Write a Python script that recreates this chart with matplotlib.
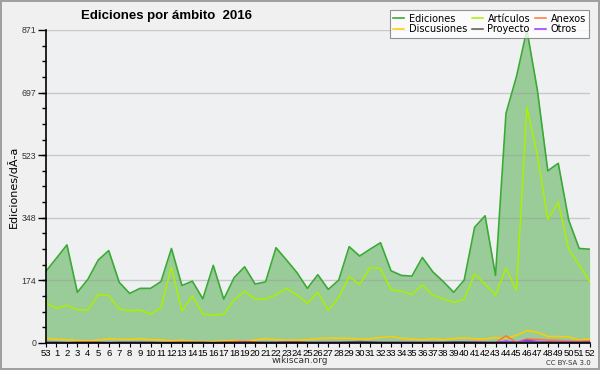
import numpy as np
import matplotlib
matplotlib.use("Agg")
import matplotlib.pyplot as plt
from matplotlib.ticker import FixedLocator

# semanas del año (53 puntos) y sus etiquetas
semanas = list(range(53))
etiquetas = ["53"] + [str(i) for i in range(1, 53)]

ediciones = [200, 236, 273, 141, 177, 231, 257, 169, 138, 152, 152, 171, 263, 160, 172, 123, 216, 122,
             182, 212, 164, 170, 265, 231, 196, 152, 190, 149, 175, 268, 242, 261, 279, 201, 188, 186,
             238, 198, 171, 141, 175, 322, 354, 188, 639, 741, 871, 704, 479, 500, 342, 263, 261]
articulos = [112, 96, 105, 92, 92, 135, 132, 95, 89, 92, 80, 99, 211, 89, 131, 80, 77, 80,
             120, 144, 122, 122, 134, 152, 134, 110, 141, 91, 127, 185, 163, 210, 207, 148, 144, 135,
             161, 133, 123, 113, 122, 192, 164, 133, 208, 147, 656, 523, 344, 392, 261, 217, 171]
discusiones = [13, 10, 9, 7, 6, 8, 12, 10, 10, 12, 9, 9, 6, 8, 5, 4, 4, 6,
               7, 6, 8, 12, 9, 8, 8, 9, 12, 14, 13, 13, 11, 12, 15, 18, 13, 11,
               9, 12, 9, 12, 14, 12, 11, 15, 13, 21, 34, 30, 18, 18, 17, 8, 11]
anexos = [1, 1, 1, 1, 1, 1, 1, 1, 1, 1, 1, 1, 2, 1, 1, 1, 1, 2,
          4, 5, 3, 1, 1, 1, 2, 1, 1, 1, 1, 1, 1, 1, 1, 1, 1, 1,
          1, 1, 1, 1, 2, 4, 2, 1, 20, 2, 11, 10, 8, 7, 5, 5, 6]
proyecto = [2, 2, 1, 2, 2, 2, 1, 2, 2, 2, 2, 1, 1, 2, 2, 2, 1, 2,
            2, 3, 2, 2, 2, 3, 3, 2, 2, 2, 2, 3, 4, 3, 2, 2, 2, 2,
            2, 2, 2, 3, 3, 2, 2, 2, 3, 2, 4, 3, 3, 2, 2, 2, 3]
otros = [1, 1, 1, 1, 1, 1, 1, 1, 1, 1, 1, 1, 1, 1, 1, 1, 1, 1,
         1, 2, 1, 1, 1, 2, 1, 1, 1, 1, 1, 1, 1, 1, 1, 1, 1, 1,
         1, 1, 1, 1, 1, 2, 1, 1, 5, 1, 8, 4, 2, 2, 2, 1, 2]

yticks = [0, 174, 348, 523, 697, 871]

plt.rcParams['font.family'] = ['DejaVu Sans']
fig = plt.figure(figsize=(6, 3.7), dpi=100, facecolor='#f0f0f0',
                 edgecolor='#a0a0a0', linewidth=1.5)
ax = fig.add_axes([0.0767, 0.073, 0.906, 0.846])
ax.set_facecolor('#eff0f2')

ax.fill_between(semanas, ediciones, 0, color='#99cc99', lw=0, zorder=1)
l1, = ax.plot(semanas, ediciones, color='#3aaa35', lw=1.2, label='Ediciones')
l2, = ax.plot(semanas, articulos, color='#aaf000', lw=1.1, label='Artículos')
l4, = ax.plot(semanas, discusiones, color='#ffcc00', lw=1.1, label='Discusiones')
l3, = ax.plot(semanas, anexos, color='#ff7733', lw=1.1, label='Anexos')
l5, = ax.plot(semanas, proyecto, color='#555555', lw=1.1, label='Proyecto')
l6, = ax.plot(semanas, otros, color='#9933ff', lw=1.1, label='Otros')

ax.set_xlim(0, 52)
ax.set_ylim(0, 871)
ax.yaxis.set_major_locator(FixedLocator(yticks))
ax.yaxis.set_minor_locator(FixedLocator(np.arange(0, 871, 174.2 / 4)))
ax.set_yticklabels([str(v) for v in yticks], fontsize=6.3, color='#333333',
                   family='Liberation Sans')
ax.tick_params(axis='y', which='major', length=6, width=1, pad=1)
ax.tick_params(axis='y', which='minor', length=3, width=1)
ax.grid(axis='y', color='#999999', alpha=0.45, lw=1)
ax.set_axisbelow('line')

ax.set_xticks(semanas)
ax.set_xticklabels(etiquetas, fontsize=6.8, family='Liberation Sans')
ax.tick_params(axis='x', length=3, pad=1)

for s in ['top', 'right']:
    ax.spines[s].set_visible(False)
ax.spines['left'].set_linewidth(1.2)
ax.spines['bottom'].set_linewidth(1.2)

ax.set_ylabel('Ediciones/dÃ­a', fontsize=8, labelpad=2)
fig.text(0.277, 0.958, 'Ediciones por ámbito  2016', fontsize=9.5,
         fontweight='bold', ha='center', va='center', family='Liberation Sans')
fig.text(0.5, 0.025, 'wikiscan.org', fontsize=6.5, color='#333333', ha='center', va='center')
fig.text(0.985, 0.02, 'CC BY-SA 3.0', fontsize=5, color='#333333', ha='right', va='center')

leg = fig.legend([l1, l4, l2, l5, l3, l6],
                 ['Ediciones', 'Discusiones', 'Artículos', 'Proyecto', 'Anexos', 'Otros'],
                 ncol=3, loc='upper right', bbox_to_anchor=(0.99, 0.985),
                 fontsize=7, frameon=True, fancybox=False, handlelength=1.1,
                 handletextpad=0.5, columnspacing=0.5, labelspacing=0.05,
                 borderpad=0.35, edgecolor='#777777')
leg.get_frame().set_linewidth(0.8)
leg.get_frame().set_facecolor('#ffffff')

fig.savefig('out.png', dpi=100, facecolor=fig.get_facecolor(), edgecolor=fig.get_edgecolor())
